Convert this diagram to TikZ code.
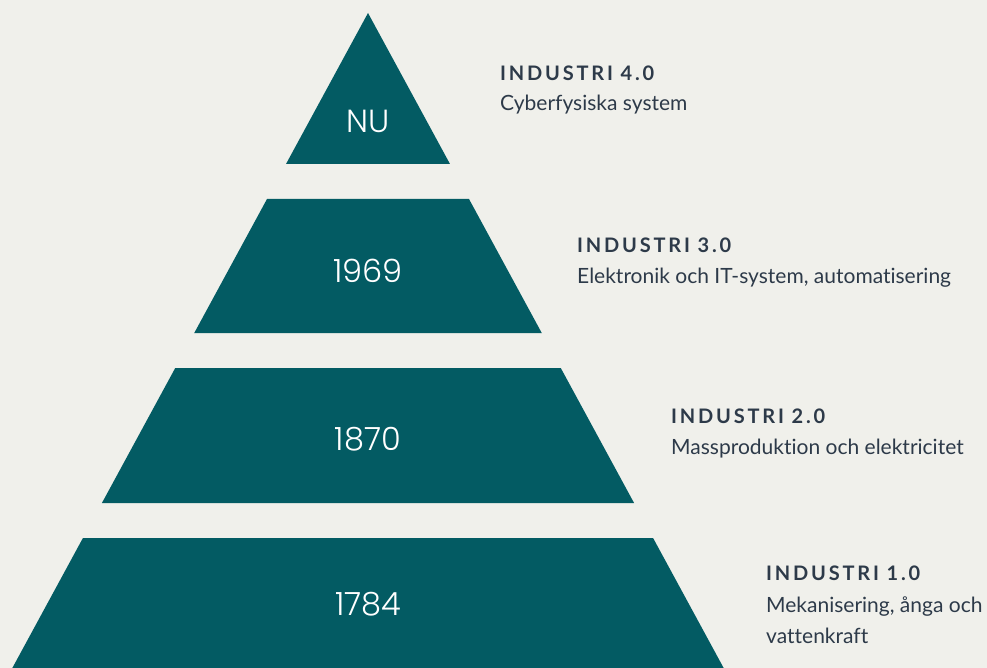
\documentclass[tikz,border=0pt]{standalone}
\usepackage{fontspec}
\setmainfont{Lato}[Ligatures={NoCommon}]
\newfontfamily\numfont{Poppins}[UprightFont=* Light]
\newfontfamily\headfont{Lato}[UprightFont=* Bold, LetterSpace=14]
\definecolor{bg}{HTML}{F0F0EB}
\definecolor{teal}{HTML}{035B63}
\definecolor{ink}{HTML}{2D3A49}
\tikzset{
  tier/.style={fill=teal, draw=none},
  num/.style={font=\numfont\fontsize{32}{36}\selectfont, text=white, anchor=center, inner sep=0pt},
  head/.style={font=\headfont\fontsize{20}{22}\selectfont, text=ink, anchor=base west, inner sep=0pt},
  sub/.style={font=\fontsize{21}{30}\selectfont, text=ink, anchor=base west, inner sep=0pt, align=left},
}
\begin{document}
\begin{tikzpicture}[x=1pt,y=-1pt]
\fill[bg] (0,0) rectangle (987,668);
\useasboundingbox (0,0) rectangle (987,668);
% apex (368,13), slope 0.543
\def\k{0.543}
\fill[tier] (368,13) -- ({368+151*\k},164) -- ({368-151*\k},164) -- cycle;
\fill[tier] ({368-186*\k},199) -- ({368+186*\k},199) -- ({368+320*\k},333) -- ({368-320*\k},333) -- cycle;
\fill[tier] ({368-355*\k},368) -- ({368+355*\k},368) -- ({368+490*\k},503) -- ({368-490*\k},503) -- cycle;
\fill[tier] ({368-525*\k},538) -- ({368+525*\k},538) -- ({368+670*\k},683) -- ({368-670*\k},683) -- cycle;
\node[num] (n4) at (368,121) {NU};
\node[num] (n3) at (368,271) {1969};
\node[num] (n2) at (368,439) {1870};
\node[num] (n1) at (368,604) {1784};
\node[head] (h4) at (500,81) {INDUSTRI 4.0};
\node[sub] (s4) at (500,111) {Cyberfysiska system};
\node[head] (h3) at (577,252) {INDUSTRI 3.0};
\node[sub] (s3) at (577,283) {Elektronik och IT-system, automatisering};
\node[head] (h2) at (671,423) {INDUSTRI 2.0};
\node[sub] (s2) at (671,454) {Massproduktion och elektricitet};
\node[head] (h1) at (766,580) {INDUSTRI 1.0};
\node[sub] (s1) at (766,612) {Mekanisering, ånga och};
\node[sub] (s1b) at (766,643) {vattenkraft};
\end{tikzpicture}
\end{document}
